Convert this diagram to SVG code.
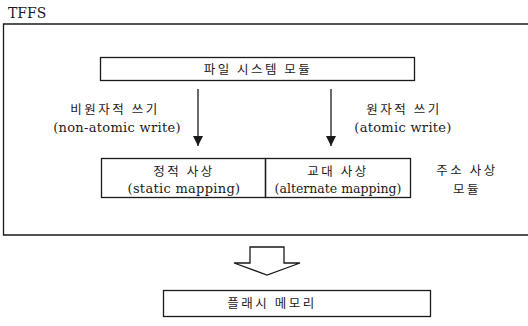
<svg xmlns="http://www.w3.org/2000/svg" width="528" height="326" viewBox="0 0 528 326">
<defs>
<style>
.box{fill:none;stroke:#1a1a1a;stroke-width:1.3}
.en{font-family:'DejaVu Serif','Liberation Serif',serif;font-size:13px;fill:#1a1a1a;letter-spacing:0.3px}
.ko{font-family:'Noto Sans CJK KR','Noto Sans',sans-serif;font-size:12.5px;fill:#1a1a1a;letter-spacing:2.5px}
.line{stroke:#1a1a1a;stroke-width:1.3;fill:none}
</style>
<marker id="ah" markerWidth="12" markerHeight="12" refX="10" refY="5" orient="auto" markerUnits="userSpaceOnUse">
<path d="M0,0 L10,5 L0,10 Z" fill="#1a1a1a"/>
</marker>
</defs>
<rect width="528" height="326" fill="#fff"/>
<g id="tffs">
<text x="8" y="18" class="en" style="font-size:14px;letter-spacing:0px">TFFS</text>
<path class="box" d="M530,24 H3.5 V235 H530"/>
</g>
<g id="fs-module">
<rect class="box" x="100.5" y="57.5" width="314" height="23"/>
<text x="258" y="73.5" class="ko" text-anchor="middle">파일 시스템 모듈</text>
</g>
<g id="connectors">
<line class="line" x1="198" y1="89" x2="198" y2="146" marker-end="url(#ah)"/>
<line class="line" x1="331" y1="89" x2="331" y2="146" marker-end="url(#ah)"/>
<path class="line" d="M250,247 H284 V263 H300 L267,275 L234,263 H250 Z"/>
</g>
<g id="label-nonatomic">
<text x="115" y="114" class="ko" text-anchor="middle">비원자적 쓰기</text>
<text x="117" y="132" class="en" text-anchor="middle">(non-atomic write)</text>
</g>
<g id="label-atomic">
<text x="404" y="114" class="ko" text-anchor="middle">원자적 쓰기</text>
<text x="403" y="132" class="en" text-anchor="middle">(atomic write)</text>
</g>
<g id="static-mapping">
<rect class="box" x="101.5" y="158.5" width="164" height="39"/>
<text x="184" y="176" class="ko" text-anchor="middle">정적 사상</text>
<text x="184" y="193" class="en" text-anchor="middle">(static mapping)</text>
</g>
<g id="alternate-mapping">
<rect class="box" x="265.5" y="158.5" width="145" height="39"/>
<text x="338" y="176" class="ko" text-anchor="middle">교대 사상</text>
<text x="338" y="193" class="en" text-anchor="middle" style="letter-spacing:0px;font-size:12.5px">(alternate mapping)</text>
</g>
<g id="addr-mapping-label">
<text x="467" y="175" class="ko" text-anchor="middle">주소 사상</text>
<text x="467" y="194" class="ko" text-anchor="middle">모듈</text>
</g>
<g id="flash-memory">
<rect class="box" x="163.5" y="290.5" width="267" height="26"/>
<text x="272" y="308" class="ko" text-anchor="middle">플래시 메모리</text>
</g>
</svg>
